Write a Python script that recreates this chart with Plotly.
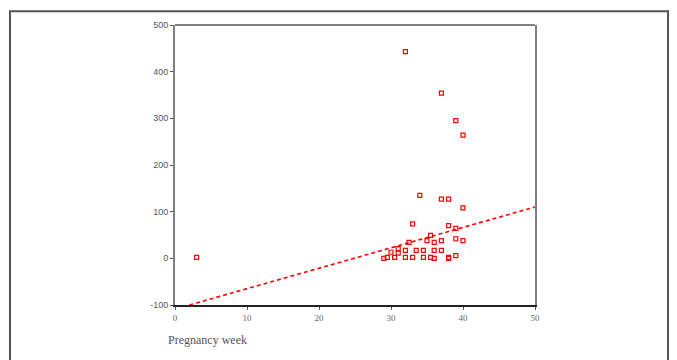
import plotly.graph_objects as go

# Data
week = [3, 32, 37, 39, 40, 34, 37, 38, 40, 33, 38, 39, 35.5, 39, 40, 32.5, 35, 36, 37,
        31, 32, 33.5, 34.5, 36, 37, 30, 31, 29, 29.5, 30.5, 32, 33, 34.5, 35.5, 36, 38, 39, 38]
cmmhr = [2, 443, 354, 295, 264, 135, 127, 127, 108, 74, 70, 64, 49, 42, 38, 34, 38, 34, 38,
         21, 17, 17, 17, 17, 17, 13, 11, 0, 2, 2, 2, 2, 2, 2, 0, 2, 6, 0]
fit_x = [2, 50]
fit_intercept = -108.75
fit_slope = 4.375

x_ticks = [0, 10, 20, 30, 40, 50]
y_ticks = [-100, 0, 100, 200, 300, 400, 500]
y_tick_labels = ["-100", "0", "100", "200", "300", "400", "500"]

fit_y = [fit_intercept + fit_slope * v for v in fit_x]

fig = go.Figure()
fig.add_trace(go.Scatter(
    x=week, y=cmmhr, mode="markers",
    marker=dict(symbol="square-open", size=4, color="#ff0000", line=dict(width=1.2, color="#ff0000")),
    showlegend=False, cliponaxis=False,
))
fig.add_trace(go.Scatter(
    x=fit_x, y=fit_y, mode="lines",
    line=dict(color="#ff0000", width=1.6, dash="4px,3px"),
    showlegend=False,
))

OFF = 8  # page body margin
W, H = 677 - OFF, 360 - OFF
L, T = 175 - OFF, 21 - OFF
pw, ph = 360, 284
R, B = W - L - pw, H - T - ph

def px(x):
    return (x - OFF - L) / pw

def py(y):
    return (T + ph - (y - OFF)) / ph

fig.update_layout(
    width=W, height=H,
    margin=dict(l=L, r=R, t=T, b=B, pad=0),
    paper_bgcolor="white", plot_bgcolor="white",
    font=dict(family="Liberation Sans", size=9, color="#555"),
    xaxis=dict(range=[0, 50], tickvals=x_ticks, showgrid=False, zeroline=False,
               showline=True, linecolor="#222", linewidth=2,
               ticks="outside", ticklen=3, tickcolor="#555",
               tickfont=dict(family="Liberation Serif", size=9, color="#666")),
    yaxis=dict(range=[-100, 500], tickvals=y_ticks, ticktext=y_tick_labels,
               showgrid=False, zeroline=False,
               showline=True, linecolor="#808080", linewidth=2, mirror=True,
               ticks="outside", ticklen=3, tickcolor="#555",
               tickfont=dict(family="Liberation Sans", size=9, color="#555")),
    shapes=[
        dict(type="line", xref="paper", yref="paper", x0=0, x1=1, y0=1, y1=1,
             line=dict(color="#808080", width=2)),
        dict(type="rect", xref="paper", yref="paper",
             x0=px(10), x1=px(668), y0=py(370), y1=py(7),
             line=dict(color="#555", width=2), fillcolor="rgba(0,0,0,0)", layer="below"),
    ],
    annotations=[
        dict(text="Pregnancy week", xref="paper", yref="paper", x=px(166), y=py(341),
             xanchor="left", yanchor="middle", showarrow=False,
             font=dict(family="Liberation Serif", size=12, color="#555")),
    ],
)

fig.write_html("out.html")
